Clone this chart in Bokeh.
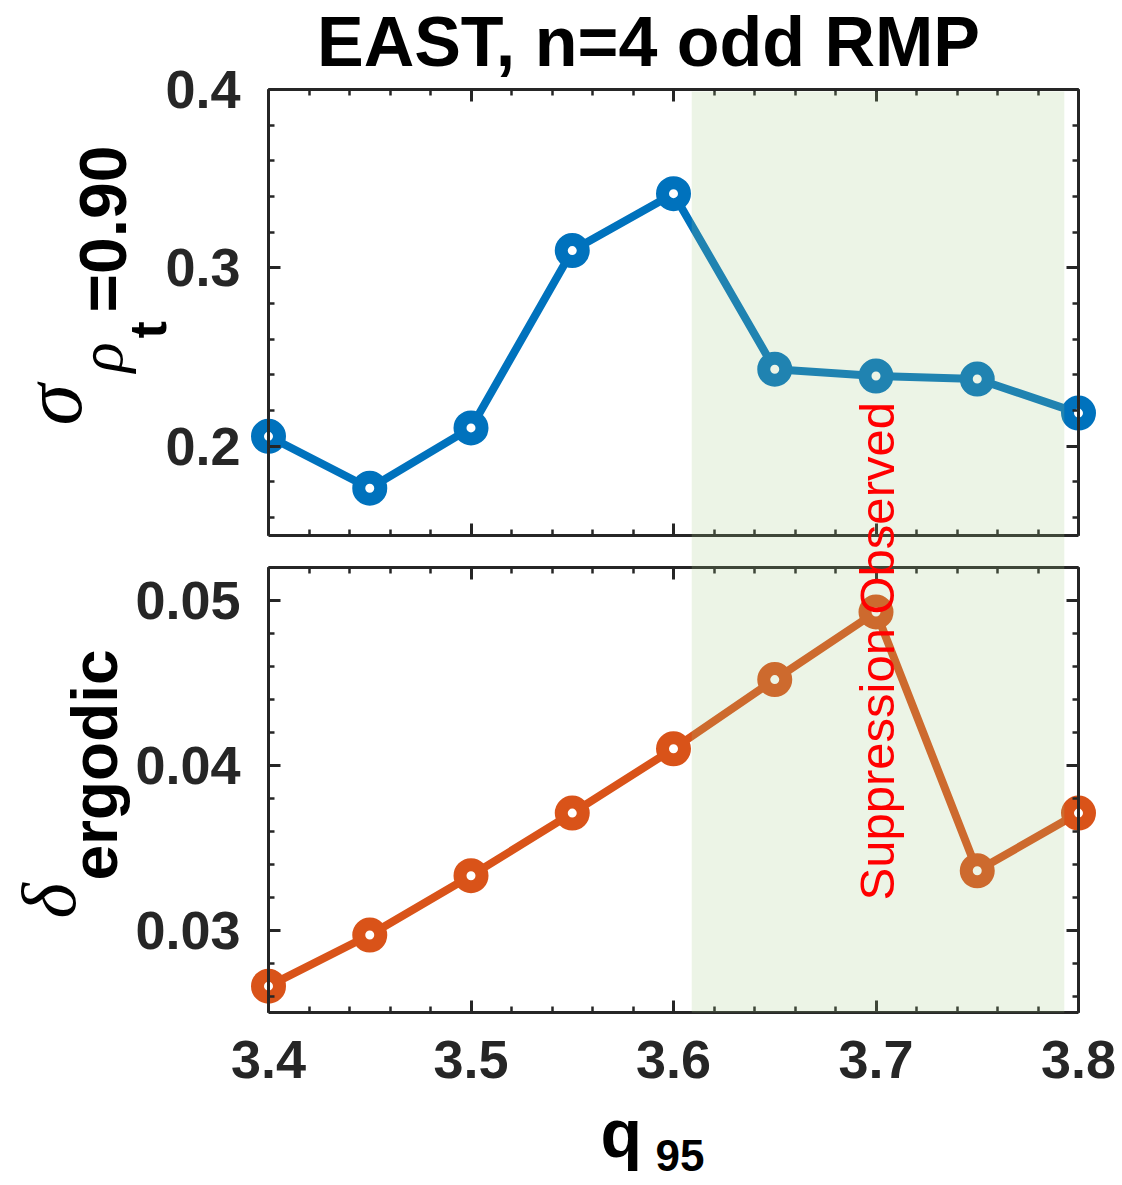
import math
from bokeh.plotting import figure
from bokeh.models import (Range1d, LinearAxis, FixedTicker, BoxAnnotation, Label,
                          CustomJSTickFormatter)
from bokeh.embed import file_html
from bokeh.resources import INLINE

# ---------------- data ----------------
q95 = [3.40, 3.45, 3.50, 3.55, 3.60, 3.65, 3.70, 3.75, 3.80]
sigma_rho090 = [0.2056, 0.1765, 0.2103, 0.3097, 0.3416, 0.2432, 0.2394, 0.2377, 0.2186]
delta_ergodic = [0.0266, 0.0297, 0.0333, 0.0371, 0.0410, 0.0452, 0.0493, 0.0336, 0.0371]
x_ticks = [3.4, 3.5, 3.6, 3.7, 3.8]
top_ticks = [0.2, 0.3, 0.4]
bottom_ticks = [0.03, 0.04, 0.05]
suppression_window = [3.609, 3.793]
title_text = "EAST, n=4 odd RMP"
annotation_text = "Suppression Observed"

# ---------------- layout (pixels of the 1122x1185 page) ----------------
W, H = 1122, 1185
X_LIM = (3.4, 3.8)
TOP_LIM = (0.15, 0.4)
BOT_LIM = (0.025, 0.052)
PX_L, PX_R = 268, 1078          # panel left/right edges
PX_TOP_T, PX_TOP_B = 89, 535    # top panel
PX_BOT_T, PX_BOT_B = 567, 1012  # bottom panel

# The plotting frame covers the whole canvas; each panel is drawn with
# fixed-location axes limited by their bounds.
x_per_px = (X_LIM[1] - X_LIM[0]) / (PX_R - PX_L)
top_per_px = (TOP_LIM[1] - TOP_LIM[0]) / (PX_TOP_B - PX_TOP_T)
bot_per_px = (BOT_LIM[1] - BOT_LIM[0]) / (PX_BOT_B - PX_BOT_T)


def px_x(px):
    return X_LIM[0] + (px - PX_L) * x_per_px


def px_y(py):
    return BOT_LIM[0] + (PX_BOT_B - py) * bot_per_px


def px_ytop(py):
    return TOP_LIM[0] + (PX_TOP_B - py) * top_per_px


x_range = Range1d(px_x(0), px_x(W))
bot_range = Range1d(px_y(H), px_y(0))
top_range = Range1d(px_ytop(H), px_ytop(0))

BLUE = "#0072BD"
ORANGE = "#D95319"
AX = "#262626"
SANS = "Liberation Sans"
SERIF = "Liberation Serif"

p = figure(width=W, height=H, x_range=x_range, y_range=bot_range,
           output_backend="svg", toolbar_location=None,
           x_axis_location=None, y_axis_location=None,
           min_border=0, min_border_left=0, min_border_right=0,
           min_border_top=0, min_border_bottom=0)
p.extra_y_ranges = {"top": top_range}
p.outline_line_color = None
p.background_fill_color = "white"
p.border_fill_color = "white"
p.grid.visible = False
p.center = [r for r in p.center if r.__class__.__name__ != "Grid"]


def minor_list(lo, hi, step):
    n = int(round((hi - lo) / step))
    return [round(lo + i * step, 6) for i in range(n + 1)]


x_minor = minor_list(X_LIM[0], X_LIM[1], 0.02)
top_minor = minor_list(0.16, 0.40, 0.02)
bot_minor = minor_list(0.026, 0.052, 0.002)

blank = CustomJSTickFormatter(code="return ''")


def add_axis(side, ticks, minor, bounds, loc, labels, range_name=None):
    kw = {}
    if range_name:
        kw["y_range_name"] = range_name
    ax = LinearAxis(ticker=FixedTicker(ticks=ticks, minor_ticks=minor),
                    bounds=bounds, fixed_location=loc, **kw)
    ax.axis_line_color = AX
    ax.axis_line_width = 3
    ax.major_tick_line_color = AX
    ax.major_tick_line_width = 3
    ax.minor_tick_line_color = AX
    ax.minor_tick_line_width = 2.5
    ax.major_tick_in = 12
    ax.major_tick_out = 0
    ax.minor_tick_in = 6
    ax.minor_tick_out = 0
    if labels:
        ax.major_label_text_font = SANS
        ax.major_label_text_font_style = "bold"
        ax.major_label_text_font_size = "54px"
        ax.major_label_text_color = AX
        ax.major_label_standoff = 28
    else:
        ax.formatter = blank
        ax.major_label_standoff = 0
    p.add_layout(ax, side)


# bottom panel
add_axis("below", x_ticks, x_minor, X_LIM, BOT_LIM[0], True)
add_axis("above", x_ticks, x_minor, X_LIM, BOT_LIM[1], False)
add_axis("left", bottom_ticks, bot_minor, BOT_LIM, X_LIM[0], True)
add_axis("right", bottom_ticks, bot_minor, BOT_LIM, X_LIM[1], False)
# top panel
add_axis("below", x_ticks, x_minor, X_LIM, TOP_LIM[0], False, "top")
add_axis("above", x_ticks, x_minor, X_LIM, TOP_LIM[1], False, "top")
add_axis("left", top_ticks, top_minor, TOP_LIM, X_LIM[0], True, "top")
add_axis("right", top_ticks, top_minor, TOP_LIM, X_LIM[1], False, "top")

# data
p.line(q95, sigma_rho090, y_range_name="top", line_width=8, line_color=BLUE)
p.scatter(q95, sigma_rho090, y_range_name="top", marker="circle", size=22,
          line_width=13, line_color=BLUE, fill_color="white")
p.line(q95, delta_ergodic, line_width=8, line_color=ORANGE)
p.scatter(q95, delta_ergodic, marker="circle", size=22,
          line_width=13, line_color=ORANGE, fill_color="white")

# suppression window, drawn over the data as in the reference
p.add_layout(BoxAnnotation(left=suppression_window[0], right=suppression_window[1],
                           top=px_y(PX_TOP_T + 2), bottom=px_y(PX_BOT_B),
                           fill_color="#a0c882", fill_alpha=0.2, line_color=None))

V = math.pi / 2
BASE_SHIFT = 0.37  # observed offset of the alphabetic baseline, in em


def lab(text, px, py, size, font=SANS, style="bold", color="black", angle=V, align="left"):
    if angle == 0:
        py = py - BASE_SHIFT * size
    else:
        px = px - BASE_SHIFT * size
    p.add_layout(Label(x=px_x(px), y=px_y(py), text=text, angle=angle,
                       text_font=font, text_font_style=style,
                       text_font_size=f"{size}px", text_color=color,
                       text_align=align, text_baseline="alphabetic"))


lab(annotation_text, 895, 900, 49, style="normal", color="#ff0000")

# title
lab(title_text, 648, 67, 70, angle=0, align="center")
# y label top:  sigma_{rho_t = 0.90}
lab("σ", 83, 425, 84, font=SERIF, style="italic")
lab("ρ", 124, 372, 63, font=SERIF, style="italic")
lab("t", 167, 338, 52)
lab("=0.90", 127, 312, 66)
# y label bottom: delta_ergodic
lab("δ", 77, 918, 76, font=SERIF, style="italic")
lab("ergodic", 118, 880, 64)
# x label: q_95
lab("q", 600, 1158, 68, angle=0)
lab("95", 655, 1171, 44, angle=0)

open("out.html", "w").write(file_html(p, INLINE))
